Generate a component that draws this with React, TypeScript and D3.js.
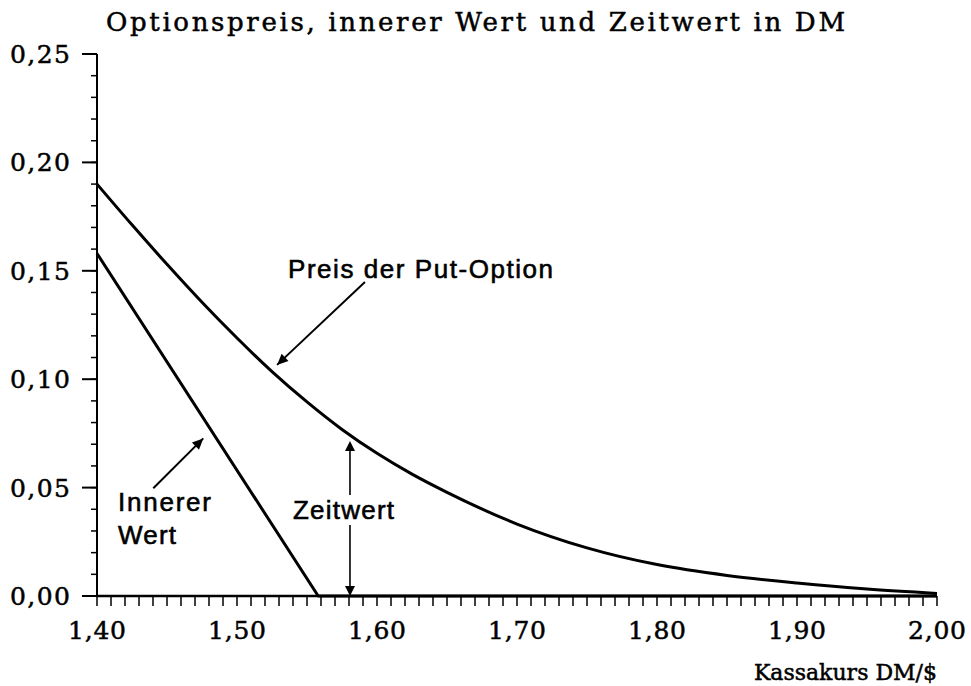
import React from "react";
import * as d3 from "d3";

// ---- Data ----
const spotRates = [1.40, 1.425, 1.45, 1.475, 1.50, 1.525, 1.55, 1.575, 1.60, 1.625, 1.65, 1.70, 1.75, 1.80, 1.85, 1.90, 1.95, 2.00];
const putPrice = [0.190, 0.1712, 0.1530, 0.1355, 0.119, 0.1035, 0.0895, 0.0768, 0.0658, 0.0562, 0.0478, 0.0332, 0.0222, 0.0145, 0.0095, 0.006, 0.0032, 0.0012];

const innerSpot = [1.40, 1.558, 2.00];
const innerValue = [0.158, 0.0, 0.0];

const xTickValues = [1.40, 1.50, 1.60, 1.70, 1.80, 1.90, 2.00];
const xTickLabels = ["1,40", "1,50", "1,60", "1,70", "1,80", "1,90", "2,00"];
const yTickValues = [0.0, 0.05, 0.10, 0.15, 0.20, 0.25];
const yTickLabels = ["0,00", "0,05", "0,10", "0,15", "0,20", "0,25"];

const titleText = "Optionspreis, innerer Wert und Zeitwert in DM";
const xAxisTitle = "Kassakurs DM/$";
const putLabel = "Preis der Put-Option";
const innerLabel1 = "Innerer";
const innerLabel2 = "Wert";
const timeLabel = "Zeitwert";

// annotation anchors in data space
const putArrowFrom: [number, number] = [1.5914, 0.1448];
const putArrowTo: [number, number] = [1.5286, 0.1066];
const innerArrowFrom: [number, number] = [1.4402, 0.0497];
const innerArrowTo: [number, number] = [1.4759, 0.0727];
const timeArrowX = 1.5807;
const timeArrowTop = 0.0715;

const W = 971;
const H = 686;

const serif = "'DejaVu Serif', 'Liberation Serif', serif";
const sans = "'Liberation Sans', Arial, Helvetica, sans-serif";

function arrowHead(fx: number, fy: number, tx: number, ty: number, len = 11, half = 5) {
  const dx = tx - fx;
  const dy = ty - fy;
  const d = Math.sqrt(dx * dx + dy * dy);
  const ux = dx / d;
  const uy = dy / d;
  const bx = tx - ux * len;
  const by = ty - uy * len;
  const px = -uy;
  const py = ux;
  return `M${tx},${ty}L${bx + px * half},${by + py * half}L${bx - px * half},${by - py * half}Z`;
}

export default function App() {
  const x = d3.scaleLinear().domain([1.4, 2.0]).range([97, 937]);
  const y = d3.scaleLinear().domain([0, 0.25]).range([596, 54]);

  const putData = spotRates.map((s, i) => [s, putPrice[i]] as [number, number]);
  const innerData = innerSpot.map((s, i) => [s, innerValue[i]] as [number, number]);

  const putLine = d3
    .line<[number, number]>()
    .x((d) => x(d[0]))
    .y((d) => y(d[1]))
    .curve(d3.curveMonotoneX);
  const innerLine = d3
    .line<[number, number]>()
    .x((d) => x(d[0]))
    .y((d) => y(d[1]));

  const xMinor = d3.range(0, 61).map((i) => 1.4 + i * 0.01);
  const yMinor = d3.range(0, 26).map((i) => i * 0.01);

  const x0 = x(1.4);
  const y0 = y(0);

  const pa1 = [x(putArrowFrom[0]), y(putArrowFrom[1])];
  const pa2 = [x(putArrowTo[0]), y(putArrowTo[1])];
  const ia1 = [x(innerArrowFrom[0]), y(innerArrowFrom[1])];
  const ia2 = [x(innerArrowTo[0]), y(innerArrowTo[1])];
  const tx = x(timeArrowX);
  const tTop = y(timeArrowTop);

  const serifText = { fontFamily: serif, fill: "#000", stroke: "#000", strokeWidth: 0.5 };
  const sansText = { fontFamily: sans, fill: "#000", stroke: "#000", strokeWidth: 0.6 };

  return (
    <svg
      width={W}
      height={H}
      style={{ position: "absolute", left: 0, top: 0, background: "#fff" }}
    >
      <rect x={0} y={0} width={W} height={H} fill="#fff" />
      {/* Title */}
      <text x={106} y={31} fontSize={26} textLength={739} lengthAdjust="spacing" {...serifText}>
        {titleText}
      </text>

      {/* Y axis */}
      <line x1={x0} x2={x0} y1={y(0.25)} y2={y0} stroke="#000" strokeWidth={2} />
      {yMinor.map((v, i) => (
        <line key={"ym" + i} x1={x0 - 6} x2={x0} y1={y(v)} y2={y(v)} stroke="#000" strokeWidth={1.5} />
      ))}
      {yTickValues.map((v, i) => (
        <g key={"yt" + i}>
          <line x1={x0 - 15} x2={x0} y1={y(v)} y2={y(v)} stroke="#000" strokeWidth={2} />
          <text
            x={70}
            y={y(v) + 9}
            textAnchor="end"
            fontSize={25}
            textLength={60}
            lengthAdjust="spacing"
            {...serifText}
          >
            {yTickLabels[i]}
          </text>
        </g>
      ))}

      {/* X axis */}
      <line x1={x0} x2={x(2.0)} y1={y0} y2={y0} stroke="#000" strokeWidth={2.5} />
      {xMinor.map((v, i) => (
        <line key={"xm" + i} x1={x(v)} x2={x(v)} y1={y0} y2={y0 + 10} stroke="#000" strokeWidth={1.5} />
      ))}
      {xTickValues.map((v, i) => (
        <text
          key={"xt" + i}
          x={x(v)}
          y={639}
          textAnchor="middle"
          fontSize={25}
          textLength={58}
          lengthAdjust="spacing"
          {...serifText}
        >
          {xTickLabels[i]}
        </text>
      ))}
      <text x={937} y={680} textAnchor="end" fontSize={22} {...serifText}>
        {xAxisTitle}
      </text>

      {/* Curves */}
      <path d={innerLine(innerData) || ""} fill="none" stroke="#000" strokeWidth={3} strokeLinejoin="round" />
      <path d={putLine(putData) || ""} fill="none" stroke="#000" strokeWidth={3} strokeLinejoin="round" />

      {/* Annotations */}
      <line x1={pa1[0]} y1={pa1[1]} x2={pa2[0]} y2={pa2[1]} stroke="#000" strokeWidth={2} />
      <path d={arrowHead(pa1[0], pa1[1], pa2[0], pa2[1])} fill="#000" />
      <text x={288} y={278} fontSize={26} textLength={265} lengthAdjust="spacing" {...sansText}>
        {putLabel}
      </text>

      <line x1={ia1[0]} y1={ia1[1]} x2={ia2[0]} y2={ia2[1]} stroke="#000" strokeWidth={2} />
      <path d={arrowHead(ia1[0], ia1[1], ia2[0], ia2[1])} fill="#000" />
      <text x={118} y={511} fontSize={26} textLength={93} lengthAdjust="spacing" {...sansText}>
        {innerLabel1}
      </text>
      <text x={118} y={544} fontSize={26} textLength={58} lengthAdjust="spacing" {...sansText}>
        {innerLabel2}
      </text>

      <line x1={tx} x2={tx} y1={tTop + 8} y2={495} stroke="#000" strokeWidth={1.6} />
      <line x1={tx} x2={tx} y1={525} y2={y0 - 8} stroke="#000" strokeWidth={1.6} />
      <path d={arrowHead(tx, tTop + 20, tx, tTop, 10, 5)} fill="#000" />
      <path d={arrowHead(tx, y0 - 20, tx, y0, 10, 5)} fill="#000" />
      <text x={293} y={519} fontSize={26} textLength={101} lengthAdjust="spacing" {...sansText}>
        {timeLabel}
      </text>
    </svg>
  );
}
